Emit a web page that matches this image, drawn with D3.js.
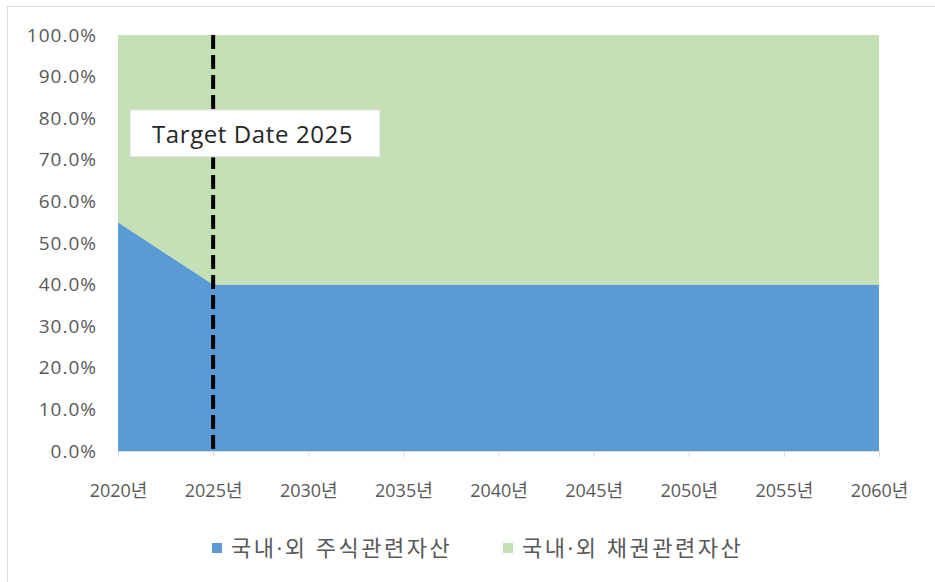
<!DOCTYPE html>
<html>
<head>
<meta charset="utf-8">
<script src="https://cdn.jsdelivr.net/npm/d3@7"></script>
<style>
  body { margin: 0; background: #fff; }
  svg { display: block; }
  text { font-family: "Open Sans", "Noto Sans CJK KR", sans-serif; }
</style>
</head>
<body>
<div id="chart"></div>
<script>
// glide path data (share of assets, %)
const years = [2020, 2025, 2030, 2035, 2040, 2045, 2050, 2055, 2060];
const stockShare = [55, 40, 40, 40, 40, 40, 40, 40, 40];
const bondShare = [45, 60, 60, 60, 60, 60, 60, 60, 60];
const yTicks = [0, 10, 20, 30, 40, 50, 60, 70, 80, 90, 100];
const seriesNames = ["국내·외 주식관련자산", "국내·외 채권관련자산"];
const targetYear = 2025;

const width = 935, height = 582;
const margin = { top: 35, right: 56, bottom: 131, left: 118 };
const colors = ["#5b9bd5", "#c5e0b4"];

const svg = d3.select("#chart").append("svg")
    .attr("width", width)
    .attr("height", height);

// outer frame
svg.append("rect")
    .attr("x", 7.5).attr("y", 6.5)
    .attr("width", width).attr("height", height)
    .attr("fill", "none")
    .attr("stroke", "#d9d9d9");

const x = d3.scaleLinear()
    .domain([years[0], years[years.length - 1]])
    .range([margin.left, width - margin.right]);

const y = d3.scaleLinear()
    .domain([0, 100])
    .range([height - margin.bottom, margin.top]);

const table = years.map((yr, i) => ({ year: yr, stock: stockShare[i], bond: bondShare[i] }));
const stacked = d3.stack().keys(["stock", "bond"])(table);

const area = d3.area()
    .x(d => x(d.data.year))
    .y0(d => y(d[0]))
    .y1(d => y(d[1]));

svg.append("g").selectAll("path")
    .data(stacked)
    .enter()
    .append("path")
    .attr("d", area)
    .attr("fill", (d, i) => colors[i]);

// x axis
const xAxis = d3.axisBottom(x)
    .tickValues(years)
    .tickFormat(d => d + "년")
    .tickSizeInner(6)
    .tickSizeOuter(0)
    .tickPadding(27);

const gx = svg.append("g")
    .attr("transform", `translate(0,${y(0)})`)
    .call(xAxis);
gx.select(".domain").attr("stroke", "#d9d9d9");
gx.selectAll(".tick line").attr("stroke", "#d9d9d9");
gx.selectAll("text")
    .attr("fill", "#595959")
    .style("font-size", "18px");

// y axis
const yAxis = d3.axisLeft(y)
    .tickValues(yTicks)
    .tickFormat(d => d.toFixed(1) + "%")
    .tickSize(0)
    .tickPadding(21);

const gy = svg.append("g")
    .attr("transform", `translate(${margin.left},0)`)
    .call(yAxis);
gy.select(".domain").remove();
gy.selectAll("text")
    .attr("fill", "#595959")
    .style("font-size", "19px")
    .style("letter-spacing", "1px");

// target date marker
svg.append("line")
    .attr("x1", x(targetYear)).attr("x2", x(targetYear))
    .attr("y1", y(100)).attr("y2", y(0))
    .attr("stroke", "#000")
    .attr("stroke-width", 4)
    .attr("stroke-dasharray", "14,6");

const label = svg.append("g")
    .attr("transform", `translate(${x(years[0]) + 12},${y(82)})`);
label.append("rect")
    .attr("width", 250).attr("height", 47)
    .attr("fill", "#fff")
    .attr("stroke", "#d9d9d9");
label.append("text")
    .attr("x", 22).attr("y", 33)
    .attr("fill", "#262626")
    .style("font-size", "24px")
    .style("letter-spacing", "0.6px")
    .text("Target Date " + targetYear);

// legend
const legendX = [212, 503];
const legend = svg.append("g")
    .attr("transform", `translate(0,${height - 34})`);
seriesNames.forEach((name, i) => {
    legend.append("rect")
        .attr("x", legendX[i]).attr("y", -5)
        .attr("width", 10).attr("height", 10)
        .attr("fill", colors[i]);
    legend.append("text")
        .attr("x", legendX[i] + 19).attr("y", 0)
        .attr("dy", "0.35em")
        .attr("fill", "#595959")
        .style("font-size", "22px")
        .style("letter-spacing", "2.5px")
        .text(name);
});
</script>
</body>
</html>
